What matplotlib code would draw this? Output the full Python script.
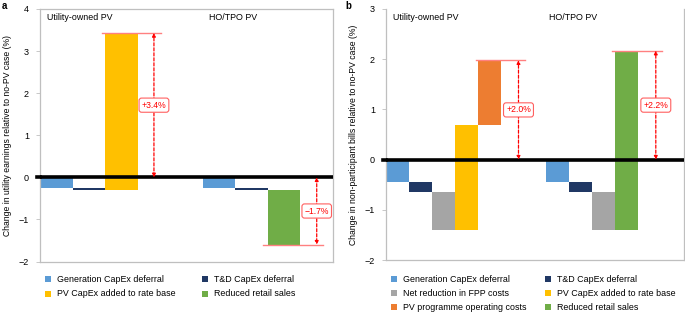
import numpy as np
import matplotlib
matplotlib.use('Agg')
import matplotlib.pyplot as plt
from matplotlib.patches import Rectangle

plt.rcParams['font.family'] = ['Liberation Sans', 'DejaVu Sans']

# colours for each component
colors = {'Generation CapEx deferral': '#5B9BD5',
          'T&D CapEx deferral': '#203864',
          'Net reduction in FPP costs': '#A5A5A5',
          'PV CapEx added to rate base': '#FFC000',
          'PV programme operating costs': '#ED7D31',
          'Reduced retail sales': '#70AD47'}

groups = ['Utility-owned PV', 'HO/TPO PV']

# panel a: utility earnings (waterfall steps, %)
a_utility_names = ['Generation CapEx deferral', 'T&D CapEx deferral', 'PV CapEx added to rate base']
a_utility_steps = [-0.25, -0.05, 3.73]
a_hotpo_names = ['Generation CapEx deferral', 'T&D CapEx deferral', 'Reduced retail sales']
a_hotpo_steps = [-0.25, -0.05, -1.30]
a_net_labels = ['+3.4%', '\u22121.7%']

# panel b: non-participant bills (waterfall steps, %)
b_utility_names = ['Generation CapEx deferral', 'T&D CapEx deferral', 'Net reduction in FPP costs',
                   'PV CapEx added to rate base', 'PV programme operating costs']
b_utility_steps = [-0.44, -0.20, -0.76, 2.08, 1.30]
b_hotpo_names = ['Generation CapEx deferral', 'T&D CapEx deferral', 'Net reduction in FPP costs',
                 'Reduced retail sales']
b_hotpo_steps = [-0.44, -0.20, -0.76, 3.57]
b_net_labels = ['+2.0%', '+2.2%']

a_legend = ['Generation CapEx deferral', 'T&D CapEx deferral',
            'PV CapEx added to rate base', 'Reduced retail sales']
b_legend = ['Generation CapEx deferral', 'T&D CapEx deferral',
            'Net reduction in FPP costs', 'PV CapEx added to rate base',
            'PV programme operating costs', 'Reduced retail sales']

FS = 6.2
LFS = 6.4
GRAY = '#BFBFBF'


def waterfall(ax, start, names, steps):
    tops = np.cumsum(steps)
    bottoms = tops - np.array(steps)
    for i, (n, s, b) in enumerate(zip(names, steps, bottoms)):
        ax.bar(start + i + 0.5, s, bottom=b, width=1.0, color=colors[n], edgecolor='none')
    return tops[-1]


def net_arrow(ax, x, x0, x1, total, label):
    ax.plot([x0, x1], [total, total], color='#FF8080', lw=1.0, zorder=4)
    ax.annotate('', xy=(x, total), xytext=(x, 0),
                arrowprops=dict(arrowstyle='<|-|>', color='#FF0000', lw=0.9,
                                ls=(0, (2.5, 1.5)), mutation_scale=5,
                                shrinkA=0, shrinkB=0), zorder=5)
    ax.text(x, total / 2, label, color='#FF0000', fontsize=FS, ha='center', va='center',
            zorder=6,
            bbox=dict(boxstyle='round,pad=0.3,rounding_size=0.3', fc='white', ec='#FF6060', lw=0.8))


def style(ax, ylim, nslots, top_spine):
    ax.set_xlim(0, nslots)
    ax.set_ylim(*ylim)
    ax.set_xticks([])
    ax.set_yticks(np.arange(ylim[0], ylim[1] + 1))
    ax.tick_params(axis='y', labelsize=FS + 0.3, length=3, width=0.6, color=GRAY, pad=5)
    for sp in ['left', 'bottom', 'right']:
        ax.spines[sp].set_color(GRAY)
        ax.spines[sp].set_linewidth(0.9)
    ax.spines['top'].set_visible(top_spine)
    ax.spines['top'].set_color(GRAY)
    ax.spines['top'].set_linewidth(0.9)
    ax.axhline(0, color='black', lw=2.6, zorder=3)
    ax.plot([-0.08 * nslots / 9, 0], [0, 0], color='black', lw=2.6, clip_on=False, zorder=3)


def legend(fig, names, x_cols, y_rows):
    k = 0
    for y in y_rows:
        for x in x_cols:
            if k >= len(names):
                break
            n = names[k]
            fig.add_artist(Rectangle((x / 685, 1 - (y + 3) / 312), 6 / 685, 6 / 312,
                                     transform=fig.transFigure, color=colors[n], lw=0))
            fig.text((x + 12) / 685, 1 - y / 312, n, fontsize=LFS, va='center', ha='left')
            k += 1


fig = plt.figure(figsize=(6.85, 3.12), dpi=100)

# panel a
ax1 = fig.add_axes([40 / 685, 1 - 261.5 / 312, 293 / 685, 252.5 / 312])
t1 = waterfall(ax1, 0, a_utility_names, a_utility_steps)
t2 = waterfall(ax1, 5, a_hotpo_names, a_hotpo_steps)
style(ax1, (-2, 4), 9, True)
net_arrow(ax1, 3.5, 1.9, 3.72, t1, a_net_labels[0])
net_arrow(ax1, 8.5, 6.86, 8.68, t2, a_net_labels[1])
ax1.text(0.2, 3.8, groups[0], fontsize=LFS, va='center')
ax1.text(5.2, 3.8, groups[1], fontsize=LFS, va='center')
ax1.set_ylabel('Change in utility earnings relative to no-PV case (%)', fontsize=FS, labelpad=5)

# panel b
ax2 = fig.add_axes([386 / 685, 1 - 260 / 312, 298 / 685, 251 / 312])
t3 = waterfall(ax2, 0, b_utility_names, b_utility_steps)
t4 = waterfall(ax2, 7, b_hotpo_names, b_hotpo_steps)
style(ax2, (-2, 3), 13, False)
net_arrow(ax2, 5.78, 3.92, 6.05, t3, b_net_labels[0])
net_arrow(ax2, 11.77, 9.87, 12.04, t4, b_net_labels[1])
ax2.text(0.3, 2.84, groups[0], fontsize=LFS, va='center')
ax2.text(7.1, 2.84, groups[1], fontsize=LFS, va='center')
ax2.set_ylabel('Change in non-participant bills relative to no-PV case (%)', fontsize=FS, labelpad=5)

fig.text(2 / 685, 1 - 6 / 312, 'a', fontsize=7, fontweight='bold', va='center')
fig.text(345 / 685, 1 - 6 / 312, 'b', fontsize=7, fontweight='bold', va='center')

legend(fig, a_legend, [45, 202], [279, 294])
legend(fig, b_legend, [391, 545], [279, 293, 307])

fig.savefig('out.png', dpi=100)
